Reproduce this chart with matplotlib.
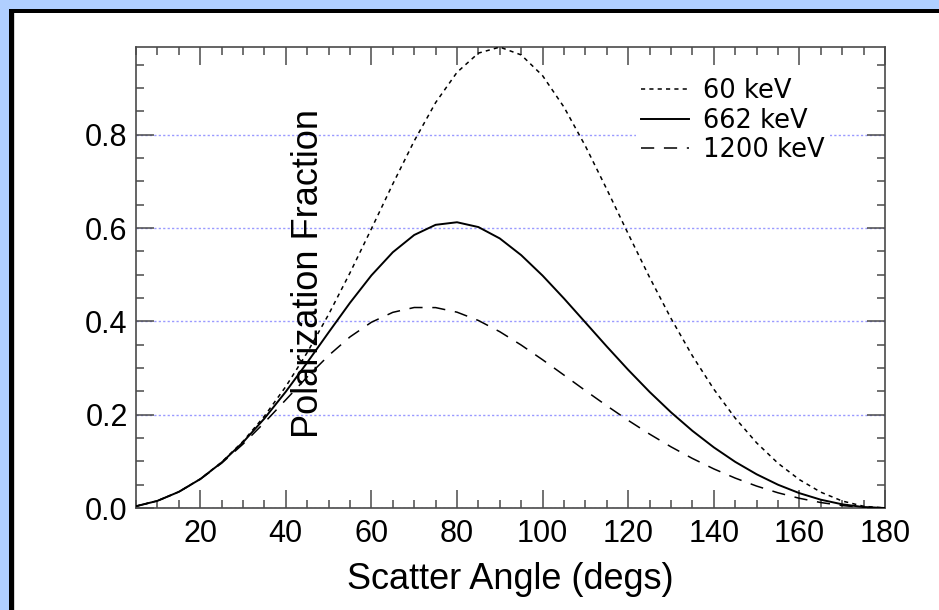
import matplotlib
matplotlib.use("Agg")
import matplotlib.pyplot as plt
from matplotlib.patches import Rectangle
from matplotlib.ticker import MultipleLocator

# ---- data ----
angles = [5, 10, 15, 20, 25, 30, 35, 40, 45, 50, 55, 60, 65, 70, 75, 80, 85, 90,
          95, 100, 105, 110, 115, 120, 125, 130, 135, 140, 145, 150, 155, 160, 165, 170, 175, 180]

pol_60 = [0.0038, 0.0153, 0.0347, 0.0621, 0.0981, 0.1428, 0.1968, 0.2603, 0.3331, 0.4148,
          0.5040, 0.5984, 0.6944, 0.7866, 0.8688, 0.9337, 0.9749, 0.9878, 0.9710, 0.9265,
          0.8591, 0.7757, 0.6831, 0.5876, 0.4942, 0.4063, 0.3261, 0.2547, 0.1926, 0.1397,
          0.0959, 0.0608, 0.0339, 0.0150, 0.0037, 0.0]

pol_662 = [0.0038, 0.0153, 0.0346, 0.0619, 0.0974, 0.1408, 0.1918, 0.2493, 0.3117, 0.3763,
           0.4398, 0.4985, 0.5481, 0.5851, 0.6069, 0.6124, 0.6021, 0.5777, 0.5419, 0.4980,
           0.4490, 0.3976, 0.3461, 0.2961, 0.2488, 0.2051, 0.1654, 0.1300, 0.0989, 0.0723,
           0.0499, 0.0318, 0.0178, 0.0079, 0.0020, 0.0]

pol_1200 = [0.0038, 0.0153, 0.0345, 0.0615, 0.0960, 0.1370, 0.1830, 0.2319, 0.2809, 0.3268,
            0.3667, 0.3981, 0.4193, 0.4297, 0.4295, 0.4197, 0.4019, 0.3778, 0.3492, 0.3177,
            0.2848, 0.2516, 0.2191, 0.1878, 0.1584, 0.1311, 0.1062, 0.0838, 0.0641, 0.0470,
            0.0326, 0.0208, 0.0117, 0.0052, 0.0013, 0.0]

series_labels = ["60 keV", "662 keV", "1200 keV"]
x_label = "Scatter Angle (degs)"
y_label = "Polarization Fraction"

# ---- figure ----
W, H = 939, 610
plt.rcParams['lines.scale_dashes'] = False
fig = plt.figure(figsize=(W / 100, H / 100), dpi=100)
fig.patch.set_facecolor('#b0cfff')

# background frame: black border on the left and top, white panel
bg = fig.add_axes([0, 0, 1, 1], zorder=-5)
bg.set_xlim(0, W)
bg.set_ylim(H, 0)
bg.axis('off')
bg.add_patch(Rectangle((9, 9), W + 50, H + 50, facecolor='black', edgecolor='none'))
bg.add_patch(Rectangle((14, 13), W + 50, H + 50, facecolor='#d4d4d4', edgecolor='none'))
bg.add_patch(Rectangle((15, 13), W + 50, H + 50, facecolor='white', edgecolor='none'))

left, right, top, bottom = 136, 885, 47, 508
ax = fig.add_axes([left / W, (H - bottom) / H, (right - left) / W, (bottom - top) / H])
ax.set_facecolor('white')

ax.plot(angles, pol_60, color='black', lw=1.1, dashes=(3, 3), label=series_labels[0], zorder=3)
ax.plot(angles, pol_662, color='black', lw=1.4, label=series_labels[1], zorder=3)
ax.plot(angles, pol_1200, color='black', lw=1.1, dashes=(9.5, 7), label=series_labels[2], zorder=3)

ax.set_xlim(5, 180)
ax.set_ylim(0, 0.988)

ax.xaxis.set_major_locator(MultipleLocator(20))
ax.xaxis.set_minor_locator(MultipleLocator(5))
ax.yaxis.set_major_locator(MultipleLocator(0.2))
ax.yaxis.set_minor_locator(MultipleLocator(0.05))
ax.xaxis.set_major_formatter(plt.FuncFormatter(lambda v, p: f"{v:.0f}"))
ax.yaxis.set_major_formatter(plt.FuncFormatter(lambda v, p: f"{v:.1f}"))

spine_col = '#4a4a4a'
for s in ax.spines.values():
    s.set_color(spine_col)
    s.set_linewidth(1.2)

ax.tick_params(which='both', direction='in', top=True, right=True, color=spine_col, width=1.1)
ax.tick_params(which='major', length=13)
ax.tick_params(which='minor', length=6)
ax.tick_params(axis='x', which='major', pad=8)
ax.tick_params(axis='y', which='major', pad=6)
for lab in ax.get_xticklabels() + ax.get_yticklabels():
    lab.set_fontfamily('Liberation Sans')
    lab.set_fontsize(22)

ax.yaxis.grid(True, which='major', color='#9a9aff', linestyle=(0, (1.6, 1.6)), linewidth=1.0, zorder=1)
ax.set_axisbelow(True)

ax.set_xlabel(x_label, fontsize=26, family='Liberation Sans', labelpad=9)
ax.set_ylabel(y_label, fontsize=26, family='Liberation Sans')
ax.yaxis.label.set_verticalalignment('center')
ax.yaxis.set_label_coords((308 - left) / (right - left), (bottom - 274) / (bottom - top))

leg = ax.legend(loc='upper left',
                bbox_to_anchor=((636 - left) / (right - left), (bottom - 73) / (bottom - top)),
                borderaxespad=0, borderpad=0.2, frameon=True, fancybox=False,
                facecolor='white', edgecolor='none', framealpha=1.0,
                prop={'family': 'DejaVu Sans', 'size': 18.5},
                handlelength=1.85, handletextpad=0.55, labelspacing=0.14)
leg.set_zorder(2)

fig.savefig('out.png', dpi=100, facecolor=fig.get_facecolor())
